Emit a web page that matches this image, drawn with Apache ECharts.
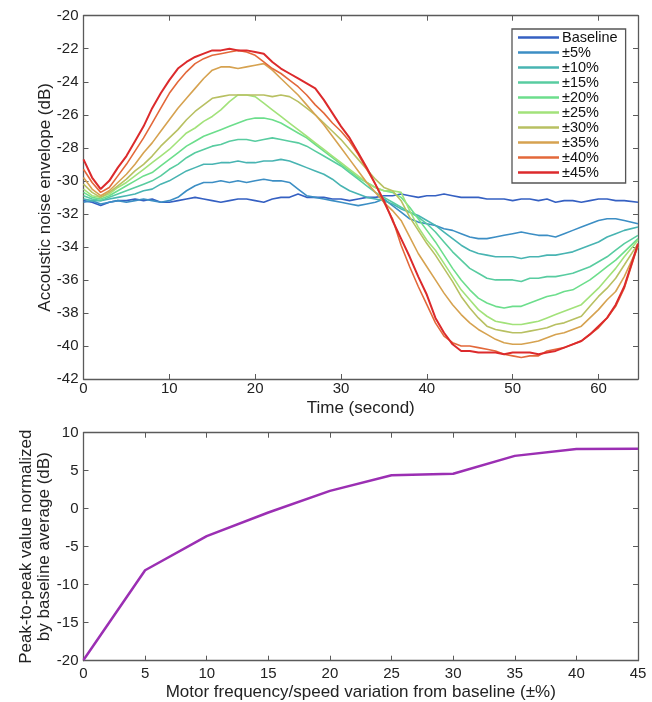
<!DOCTYPE html>
<html><head><meta charset="utf-8">
<script src="https://cdn.jsdelivr.net/npm/echarts@6/dist/echarts.min.js"></script>
<style>html,body{margin:0;padding:0;background:#fff}#c{width:652px;height:702px}</style>
</head><body><div id="c"></div>
<script>
// ---- Top chart data (time in seconds, envelope in dB) ----
const time = [0,1,2,3,4,5,6,7,8,9,10,11,12,13,14,15,16,17,18,19,20,21,22,23,24,25,26,27,28,29,30,31,32,33,34,35,36,37,38,39,40,41,42,43,44,45,46,47,48,49,50,51,52,53,54,55,56,57,58,59,60,61,62,63,64.6];
const baseline = [-31.2,-31.3,-31.5,-31.3,-31.2,-31.2,-31.1,-31.2,-31.1,-31.3,-31.3,-31.2,-31.1,-31.0,-31.1,-31.2,-31.3,-31.2,-31.1,-31.1,-31.2,-31.3,-31.1,-31.0,-31.0,-30.8,-31.0,-31.0,-31.0,-31.1,-31.1,-31.2,-31.1,-31.0,-31.0,-30.9,-30.9,-30.8,-30.9,-31.0,-30.9,-30.9,-30.8,-30.9,-31.0,-31.0,-31.0,-31.1,-31.1,-31.1,-31.2,-31.1,-31.1,-31.2,-31.1,-31.3,-31.2,-31.2,-31.3,-31.2,-31.1,-31.1,-31.2,-31.2,-31.3];
const var5 = [-31.3,-31.2,-31.4,-31.3,-31.2,-31.3,-31.2,-31.1,-31.2,-31.3,-31.2,-31.0,-30.6,-30.3,-30.1,-30.1,-30.0,-30.1,-30.0,-30.1,-30.0,-29.9,-30.0,-30.0,-30.1,-30.5,-30.9,-31.0,-31.1,-31.2,-31.3,-31.4,-31.5,-31.4,-31.3,-31.1,-31.5,-31.9,-32.3,-32.5,-32.6,-32.7,-32.9,-33.0,-33.2,-33.4,-33.5,-33.5,-33.4,-33.3,-33.2,-33.1,-33.2,-33.3,-33.3,-33.4,-33.2,-33.0,-32.8,-32.6,-32.4,-32.3,-32.3,-32.4,-32.6];
const var10 = [-31.1,-31.2,-31.2,-31.1,-31.0,-30.9,-30.8,-30.6,-30.5,-30.2,-30.0,-29.7,-29.4,-29.2,-29.0,-29.0,-28.9,-28.9,-28.8,-28.9,-28.9,-28.8,-28.8,-28.7,-28.8,-29.0,-29.2,-29.4,-29.6,-29.9,-30.3,-30.6,-30.8,-31.0,-31.1,-31.2,-31.4,-31.7,-31.9,-32.1,-32.4,-32.7,-33.1,-33.5,-33.9,-34.2,-34.4,-34.5,-34.6,-34.6,-34.6,-34.7,-34.6,-34.6,-34.5,-34.5,-34.4,-34.3,-34.1,-33.9,-33.7,-33.4,-33.2,-33.0,-32.8];
const var15 = [-30.9,-31.1,-31.2,-31.0,-30.8,-30.6,-30.4,-30.2,-30.0,-29.7,-29.3,-29.0,-28.6,-28.3,-28.1,-27.9,-27.8,-27.6,-27.5,-27.5,-27.6,-27.5,-27.4,-27.5,-27.6,-27.7,-27.9,-28.2,-28.5,-28.8,-29.1,-29.5,-29.9,-30.3,-30.7,-31.0,-31.3,-31.6,-31.9,-32.2,-32.6,-33.1,-33.7,-34.3,-34.8,-35.3,-35.6,-35.9,-36.0,-36.0,-36.0,-36.1,-35.9,-35.9,-35.8,-35.8,-35.7,-35.6,-35.4,-35.2,-34.9,-34.6,-34.2,-33.8,-33.3];
const var20 = [-30.7,-31.0,-31.1,-30.9,-30.6,-30.3,-30.0,-29.7,-29.5,-29.1,-28.7,-28.3,-27.9,-27.6,-27.3,-27.1,-26.9,-26.7,-26.5,-26.3,-26.2,-26.2,-26.3,-26.5,-26.8,-27.1,-27.4,-27.8,-28.2,-28.6,-29.0,-29.4,-29.8,-30.1,-30.4,-30.6,-30.7,-31.0,-31.6,-32.3,-33.0,-33.7,-34.5,-35.3,-36.0,-36.6,-37.1,-37.4,-37.6,-37.7,-37.6,-37.6,-37.4,-37.2,-37.0,-36.9,-36.7,-36.6,-36.3,-36.0,-35.6,-35.2,-34.8,-34.3,-33.5];
const var25 = [-30.5,-30.9,-31.0,-30.8,-30.4,-30.1,-29.7,-29.3,-28.9,-28.5,-28.1,-27.6,-27.1,-26.8,-26.4,-26.1,-25.7,-25.2,-24.8,-24.8,-24.9,-25.3,-25.7,-26.1,-26.5,-26.9,-27.3,-27.7,-28.1,-28.5,-28.9,-29.3,-29.7,-30.1,-30.4,-30.6,-30.6,-30.7,-31.8,-32.8,-33.6,-34.2,-35.0,-35.8,-36.6,-37.2,-37.8,-38.2,-38.5,-38.6,-38.7,-38.7,-38.6,-38.5,-38.3,-38.1,-37.9,-37.7,-37.5,-37.0,-36.5,-35.9,-35.3,-34.6,-33.6];
const var30 = [-30.2,-30.7,-31.0,-30.7,-30.3,-29.9,-29.4,-29.0,-28.5,-27.9,-27.4,-26.9,-26.3,-25.8,-25.4,-25.0,-24.9,-24.8,-24.8,-24.8,-24.8,-24.8,-24.9,-24.8,-24.9,-25.2,-25.6,-26.0,-26.5,-27.0,-27.5,-28.1,-28.7,-29.3,-29.9,-30.4,-30.6,-31.2,-32.2,-33.0,-33.8,-34.5,-35.3,-36.1,-37.0,-37.7,-38.3,-38.8,-39.0,-39.1,-39.2,-39.2,-39.1,-39.0,-38.9,-38.7,-38.6,-38.4,-38.2,-37.6,-37.0,-36.5,-35.9,-35.1,-33.8];
const var35 = [-29.8,-30.5,-30.9,-30.6,-30.1,-29.6,-29.0,-28.3,-27.7,-27.0,-26.3,-25.6,-25.0,-24.4,-23.8,-23.3,-23.1,-23.1,-23.2,-23.1,-23.0,-22.9,-23.3,-23.8,-24.3,-24.8,-25.4,-26.0,-26.6,-27.3,-28.0,-28.7,-29.4,-30.1,-30.7,-31.3,-31.8,-32.4,-33.4,-34.4,-35.2,-36.0,-36.8,-37.5,-38.1,-38.6,-39.0,-39.3,-39.6,-39.8,-39.9,-39.9,-39.8,-39.7,-39.5,-39.3,-39.2,-39.0,-38.8,-38.3,-37.8,-37.2,-36.7,-35.8,-34.0];
const var40 = [-29.3,-30.1,-30.7,-30.4,-29.7,-29.0,-28.2,-27.4,-26.5,-25.6,-24.7,-24.0,-23.4,-22.9,-22.6,-22.4,-22.3,-22.2,-22.1,-22.2,-22.4,-22.8,-23.2,-23.5,-23.9,-24.3,-24.8,-25.4,-25.9,-26.5,-27.0,-27.6,-28.4,-29.3,-30.2,-31.3,-32.3,-33.9,-35.2,-36.4,-37.5,-38.6,-39.4,-39.8,-40.0,-40.0,-40.1,-40.2,-40.3,-40.5,-40.6,-40.7,-40.6,-40.6,-40.3,-40.2,-40.1,-39.9,-39.7,-39.3,-38.9,-38.3,-37.6,-36.5,-33.9];
const var45 = [-28.7,-29.8,-30.5,-30.0,-29.2,-28.5,-27.6,-26.7,-25.6,-24.7,-23.9,-23.2,-22.8,-22.5,-22.3,-22.1,-22.1,-22.0,-22.1,-22.1,-22.2,-22.3,-22.8,-23.2,-23.5,-23.8,-24.1,-24.4,-25.1,-25.9,-26.7,-27.4,-28.3,-29.2,-30.2,-31.2,-32.4,-33.5,-34.6,-35.8,-36.9,-38.3,-39.2,-39.9,-40.3,-40.3,-40.4,-40.4,-40.4,-40.5,-40.4,-40.4,-40.4,-40.5,-40.4,-40.3,-40.1,-39.9,-39.7,-39.3,-38.8,-38.3,-37.5,-36.4,-33.8];
const seriesNames = ['Baseline','\u00b15%','\u00b110%','\u00b115%','\u00b120%','\u00b125%','\u00b130%','\u00b135%','\u00b140%','\u00b145%'];
const seriesValues = [baseline,var5,var10,var15,var20,var25,var30,var35,var40,var45];
const seriesColors = ['#3560c2','#3c8ec4','#48b4b2','#58cca0','#6cde8c','#a2e27a','#b8c062','#d6a250','#e3683a','#dc2a2c'];

// ---- Bottom chart data ----
const variation = [0,5,10,15,20,25,30,35,40,45];
const peakToPeak = [-19.9,-8.1,-3.6,-0.5,2.35,4.4,4.6,6.95,7.85,7.9];

const FONT = "'Liberation Sans', Arial, Helvetica, sans-serif";
const AX = '#5a5a5a';
function axisBase(extra) {
  return Object.assign({
    type: 'value',
    nameMoveOverlap: false,
    axisLine: { show: true, onZero: false, lineStyle: { color: AX, width: 1.3 } },
    axisTick: { show: true, inside: true, length: 5, lineStyle: { color: AX, width: 1 } },
    splitLine: { show: false },
    axisLabel: { color: '#222', fontSize: 15, fontFamily: FONT },
    nameTextStyle: { color: '#222', fontSize: 17, fontFamily: FONT }
  }, extra);
}

const chart = echarts.init(document.getElementById('c'), null, { renderer: 'canvas' });

const topSeries = seriesValues.map((vals, i) => ({
  name: seriesNames[i],
  type: 'line',
  xAxisIndex: 0, yAxisIndex: 0,
  data: vals.map((v, j) => [time[j], v]),
  symbol: 'none',
  lineStyle: { color: seriesColors[i], width: i === 9 ? 2 : 1.6 },
  itemStyle: { color: seriesColors[i] },
  animation: false,
  z: 2 + i
}));

const option = {
  animation: false,
  backgroundColor: '#fff',
  grid: [
    { left: 83.5, right: 14, top: 15.7, height: 363.3, containLabel: false },
    { left: 83.5, right: 14, top: 432.7, height: 228, containLabel: false }
  ],
  legend: {
    data: seriesNames,
    orient: 'vertical',
    left: 512, top: 29,
    padding: [1, 8, 3, 6],
    itemGap: 0,
    itemWidth: 41,
    itemHeight: 2.6,
    icon: 'rect',
    backgroundColor: '#fff',
    borderColor: '#555',
    borderWidth: 1.3,
    textStyle: { color: '#111', fontSize: 14.5, fontFamily: FONT, lineHeight: 15, padding: [0,0,0,-2] }
  },
  xAxis: [
    axisBase({ gridIndex: 0, position: 'bottom', min: 0, max: 64.6, interval: 10,
      name: 'Time (second)', nameLocation: 'middle', nameGap: 21,
      axisLabel: { color: '#222', fontSize: 15, fontFamily: FONT, margin: 2, showMaxLabel: false } }),
    axisBase({ gridIndex: 0, position: 'top', min: 0, max: 64.6, interval: 10,
      axisLabel: { show: false } }),
    axisBase({ gridIndex: 1, position: 'bottom', min: 0, max: 45, interval: 5,
      name: 'Motor frequency/speed variation from baseline (\u00b1%)', nameLocation: 'middle', nameGap: 23,
      axisLabel: { color: '#222', fontSize: 15, fontFamily: FONT, margin: 6 } }),
    axisBase({ gridIndex: 1, position: 'top', min: 0, max: 45, interval: 5,
      axisLabel: { show: false } })
  ],
  yAxis: [
    axisBase({ gridIndex: 0, position: 'left', min: -42, max: -20, interval: 2,
      name: 'Accoustic noise envelope (dB)', nameLocation: 'middle', nameGap: 30,
      axisLabel: { color: '#222', fontSize: 15, fontFamily: FONT, margin: 5 } }),
    axisBase({ gridIndex: 0, position: 'right', min: -42, max: -20, interval: 2,
      axisLabel: { show: false } }),
    axisBase({ gridIndex: 1, position: 'left', min: -20, max: 10, interval: 5,
      name: 'Peak-to-peak value normalized\nby baseline average (dB)', nameLocation: 'middle', nameGap: 30,
      nameTextStyle: { color: '#222', fontSize: 17, fontFamily: FONT, lineHeight: 18 },
      axisLabel: { color: '#222', fontSize: 15, fontFamily: FONT, margin: 5 } }),
    axisBase({ gridIndex: 1, position: 'right', min: -20, max: 10, interval: 5,
      axisLabel: { show: false } })
  ],
  series: topSeries.concat([{
    name: 'Peak-to-peak',
    type: 'line',
    xAxisIndex: 2, yAxisIndex: 2,
    data: variation.map((v, j) => [v, peakToPeak[j]]),
    symbol: 'none',
    lineStyle: { color: '#9b2fb3', width: 2.5 },
    itemStyle: { color: '#9b2fb3' },
    animation: false
  }])
};
chart.setOption(option);
</script>
</body></html>
